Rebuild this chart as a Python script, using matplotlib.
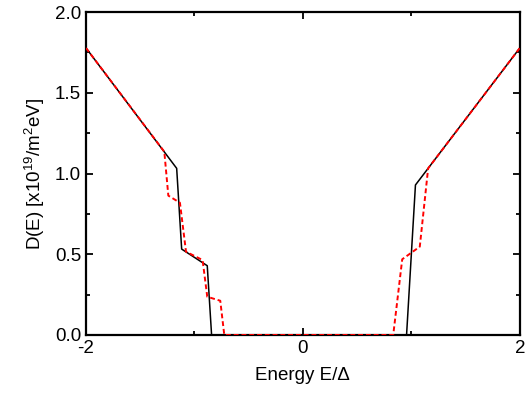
import matplotlib.pyplot as plt
from matplotlib.ticker import MultipleLocator

plt.rcParams['font.family'] = ['Liberation Sans', 'DejaVu Sans']
plt.rcParams['axes.unicode_minus'] = False
plt.rcParams['mathtext.default'] = 'regular'

# Daten
e_black = [-2.0, -1.164, -1.118, -0.882, -0.842, 0.956, 1.038, 2.0]
d_black = [1.777, 1.032, 0.532, 0.429, 0.0, 0.0, 0.929, 1.777]

e_red = [-2.0, -1.278, -1.241, -1.134, -1.078, -0.925, -0.882, -0.762, -0.725,
         0.833, 0.916, 1.078, 1.155, 2.0]
d_red = [1.777, 1.135, 0.863, 0.819, 0.516, 0.464, 0.237, 0.212, 0.0,
         0.0, 0.469, 0.547, 1.032, 1.777]

fig = plt.figure(figsize=(5.32, 4.01), dpi=100)
ax = fig.add_axes([0.1617, 0.1646, 0.8153, 0.8054])

ax.plot(e_black, d_black, color='black', lw=1.1, zorder=3)
ax.plot(e_red, d_red, color='red', lw=1.4, ls=(0, (2.5, 1.5)), zorder=4)

ax.set_xlim(-2, 2)
ax.set_ylim(0, 2)
ax.xaxis.set_major_locator(MultipleLocator(2))
ax.xaxis.set_minor_locator(MultipleLocator(1))
ax.yaxis.set_major_locator(MultipleLocator(0.5))
ax.yaxis.set_minor_locator(MultipleLocator(0.25))
ax.yaxis.set_major_formatter(plt.FormatStrFormatter('%.1f'))

ax.tick_params(which='both', direction='in', top=True, right=True, labelsize=13.5, width=1.3)
ax.tick_params(which='major', length=5)
ax.tick_params(which='minor', length=3)
for sp in ax.spines.values():
    sp.set_linewidth(1.6)

ax.set_xlabel('Energy E/\u0394', fontsize=13.5, labelpad=7)
ax.set_ylabel('D(E) [x10$^{19}$/m$^{2}$eV]', fontsize=13.5, labelpad=6)

plt.savefig('out.png', dpi=100)
